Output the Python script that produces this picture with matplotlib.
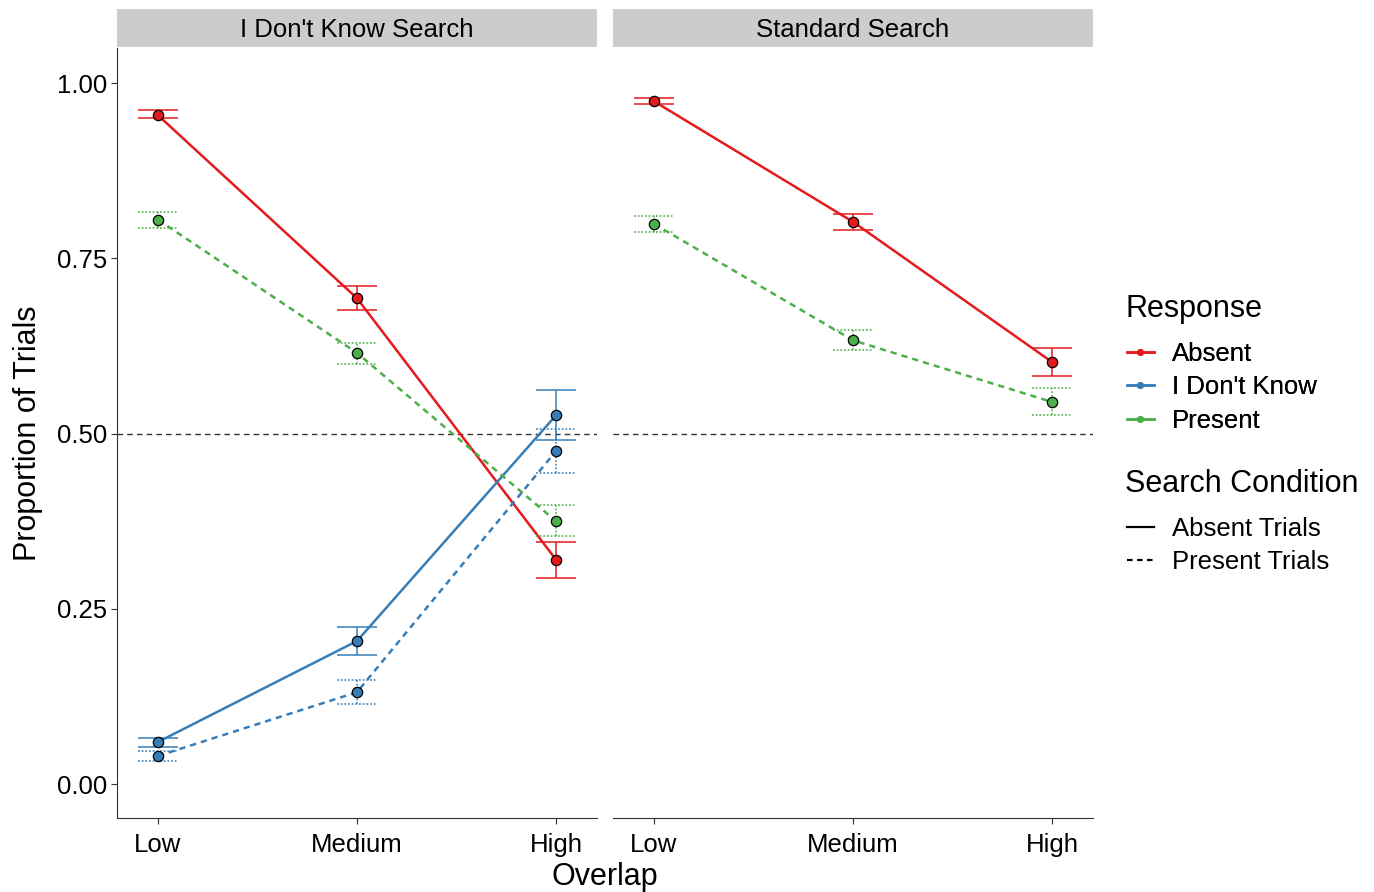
import matplotlib.pyplot as plt
from matplotlib.lines import Line2D

plt.rcParams['font.family'] = ['Liberation Sans', 'DejaVu Sans']

# categories
overlap = ['Low', 'Medium', 'High']
xpos = [1, 2, 3]

# I Don't Know Search panel
idk_absent_resp = [0.954, 0.693, 0.320]
idk_absent_lo = [0.950, 0.676, 0.294]
idk_absent_hi = [0.962, 0.710, 0.345]

idk_idk_abs = [0.060, 0.204, 0.526]
idk_idk_abs_lo = [0.053, 0.184, 0.491]
idk_idk_abs_hi = [0.066, 0.224, 0.562]

idk_present_resp = [0.805, 0.615, 0.375]
idk_present_lo = [0.793, 0.599, 0.354]
idk_present_hi = [0.816, 0.629, 0.398]

idk_idk_pres = [0.040, 0.131, 0.475]
idk_idk_pres_lo = [0.033, 0.114, 0.444]
idk_idk_pres_hi = [0.047, 0.148, 0.506]

# Standard Search panel
std_absent_resp = [0.974, 0.802, 0.602]
std_absent_lo = [0.970, 0.790, 0.582]
std_absent_hi = [0.979, 0.813, 0.622]

std_present_resp = [0.799, 0.633, 0.545]
std_present_lo = [0.787, 0.619, 0.526]
std_present_hi = [0.810, 0.648, 0.565]

red = '#E41A1C'
blue = '#377EB8'
green = '#4DAF4A'

W, H = 1374, 892
fig = plt.figure(figsize=(W / 100, H / 100), dpi=100)


def px_axes(x0, y0, x1, y1):
    return fig.add_axes([x0 / W, 1 - y1 / H, (x1 - x0) / W, (y1 - y0) / H])


def draw_series(ax, y, lo, hi, color, dashed):
    ls = (0, (2.5, 2)) if dashed else '-'
    els = (0, (1.2, 1.2)) if dashed else '-'
    ax.plot(xpos, y, color=color, lw=1.8, ls=ls, zorder=2)
    ax.vlines(xpos, lo, hi, color=color, lw=1.1, linestyles=els, zorder=2)
    for lims in (lo, hi):
        ax.hlines(lims, [x - 0.1 for x in xpos], [x + 0.1 for x in xpos],
                  color=color, lw=1.1, linestyles=els, zorder=2)
    ax.scatter(xpos, y, s=55, color=color, edgecolor='black', lw=0.9, zorder=3)


panels = [
    ('I Don\'t Know Search', 117, 597, [
        (idk_absent_resp, idk_absent_lo, idk_absent_hi, red, False),
        (idk_idk_abs, idk_idk_abs_lo, idk_idk_abs_hi, blue, False),
        (idk_present_resp, idk_present_lo, idk_present_hi, green, True),
        (idk_idk_pres, idk_idk_pres_lo, idk_idk_pres_hi, blue, True),
    ]),
    ('Standard Search', 613, 1093, [
        (std_absent_resp, std_absent_lo, std_absent_hi, red, False),
        (std_present_resp, std_present_lo, std_present_hi, green, True),
    ]),
]

for i, (title, x0, x1, series) in enumerate(panels):
    ax = px_axes(x0, 48, x1, 818)
    ax.set_xlim(0.794, 3.206)
    ax.set_ylim(-0.0485, 1.05)
    ax.axhline(0.5, color='#333333', lw=1.0, ls=(0, (4, 3)), zorder=1)
    for s in series:
        draw_series(ax, *s)
    ax.set_xticks(xpos)
    ax.set_xticklabels(overlap)
    ax.spines['top'].set_visible(False)
    ax.spines['right'].set_visible(False)
    ax.spines['left'].set_color('#333333')
    ax.spines['bottom'].set_color('#333333')
    ax.tick_params(length=4, color='#333333', labelsize=18.5,
                   labelcolor='black', pad=3)
    ax.tick_params(axis='x', pad=6.5)
    if i == 0:
        ax.set_yticks([0, 0.25, 0.5, 0.75, 1.0])
        ax.set_yticklabels(['0.00', '0.25', '0.50', '0.75', '1.00'])
    else:
        ax.set_yticks([])
        ax.spines['left'].set_visible(False)
    # strip
    strip = px_axes(x0, 9, x1, 47)
    strip.set_facecolor('#CCCCCC')
    strip.set_xticks([])
    strip.set_yticks([])
    for sp in strip.spines.values():
        sp.set_visible(False)
    strip.text(0.5, 0.45, title, ha='center', va='center', fontsize=18.5,
               transform=strip.transAxes)

fig.text(605 / W, 1 - 877 / H, 'Overlap', ha='center', va='center', fontsize=22)
fig.text(28 / W, 1 - 433 / H, 'Proportion of Trials', ha='center', va='center',
         rotation=90, fontsize=22)

# legends: titles drawn as text, entries as titleless legends
fig.text(1125 / W, 1 - 309 / H, 'Response', ha='left', va='center', fontsize=22)
resp_handles = [Line2D([], [], color=c, lw=1.8, marker='o', markersize=4)
                for c in (red, blue, green)]
leg1 = fig.legend(resp_handles, ['Absent', 'I Don\'t Know', 'Present'],
                  loc='upper left', bbox_to_anchor=(1127 / W, 1 - 342 / H),
                  frameon=False, fontsize=18.5, handlelength=1.05,
                  labelspacing=0.36, handletextpad=0.7,
                  borderpad=0, borderaxespad=0)
fig.text(1125 / W, 1 - 484 / H, 'Search Condition', ha='left', va='center',
         fontsize=22)
cond_handles = [Line2D([], [], color='black', lw=1.6, ls='-'),
                Line2D([], [], color='black', lw=1.6, ls=(0, (2.5, 2)))]
leg2 = fig.legend(cond_handles, ['Absent Trials', 'Present Trials'],
                  loc='upper left', bbox_to_anchor=(1127 / W, 1 - 517 / H),
                  frameon=False, fontsize=18.5, handlelength=1.05,
                  labelspacing=0.36, handletextpad=0.7,
                  borderpad=0, borderaxespad=0)
fig.add_artist(leg1)

fig.savefig('out.png', dpi=100)
